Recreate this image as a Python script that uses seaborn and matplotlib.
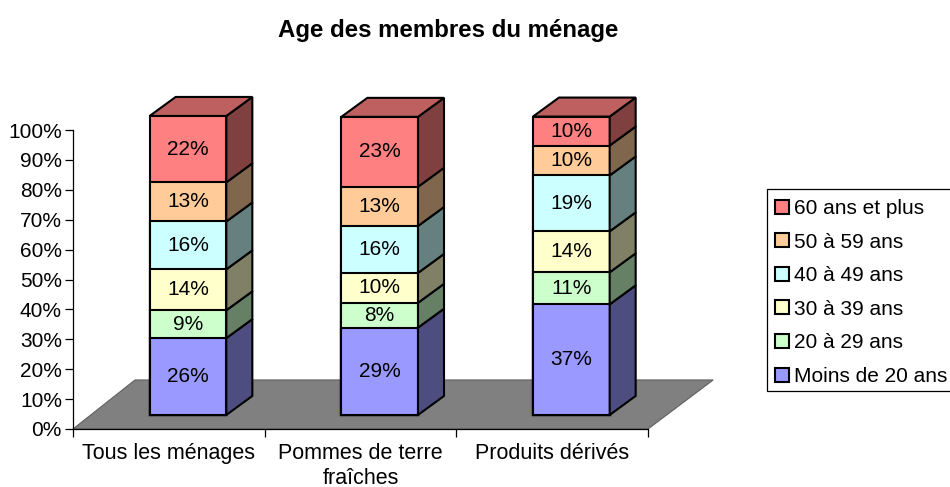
import numpy as np
import pandas as pd
import matplotlib
matplotlib.use("Agg")
import matplotlib.pyplot as plt
from matplotlib.patches import Polygon, Patch, Rectangle
import seaborn as sns

# data
categories = ["Tous les ménages", "Pommes de terre\nfraîches", "Produits dérivés"]
tranches = ["Moins de 20 ans", "20 à 29 ans", "30 à 39 ans", "40 à 49 ans", "50 à 59 ans", "60 ans et plus"]
moins_20 = [25.7, 29.2, 37.0]
a_20_29 = [9.3, 8.3, 10.7]
a_30_39 = [13.7, 10.0, 13.7]
a_40_49 = [16.0, 15.7, 18.7]
a_50_59 = [13.1, 13.1, 10.0]
plus_60 = [22.2, 23.4, 9.7]
couleurs = ["#9999FF", "#CCFFCC", "#FFFFCC", "#CCFFFF", "#FFCC99", "#FF8080"]

sns.set_style("white")
plt.rcParams["font.family"] = ["Liberation Sans", "DejaVu Sans"]
plt.rcParams["text.color"] = "black"
plt.rcParams["xtick.labelcolor"] = "black"
plt.rcParams["ytick.labelcolor"] = "black"

W, H = 950, 487
fig = plt.figure(figsize=(W / 100, H / 100), dpi=100)
# axe calé sur les pixels de l'original
ax = fig.add_axes([73 / W, 1 - 429 / H, 575 / W, 299 / H])

series = [moins_20, a_20_29, a_30_39, a_40_49, a_50_59, plus_60]
vals = np.array(series)
cumul = vals.cumsum(axis=0)
pos = np.arange(3) + 0.6
larg = 0.4
base = 4.7          # les barres sont posees sur le sol
dx, dy = 0.1357, 6.35

df = pd.DataFrame({"pos": np.tile(pos, 6), "cum": cumul.ravel(),
                   "tranche": np.repeat(tranches, 3)})

# sol gris
ax.add_patch(Polygon([(0, 0), (3, 0), (3.34, 16.4), (0.3235, 16.4)], closed=True,
                     facecolor="#808080", edgecolor="#606060", lw=0.8, zorder=0, clip_on=False))

# empilement : du plus haut au plus bas
for i in range(5, -1, -1):
    sns.barplot(data=df[df.tranche == tranches[i]], x="pos", y="cum", native_scale=True,
                bottom=base, width=larg, color=couleurs[i], saturation=1, errorbar=None,
                edgecolor="black", linewidth=1.5, ax=ax, zorder=2, clip_on=False)


def assombrir(c, f):
    return tuple(v * f for v in matplotlib.colors.to_rgb(c))


for j, x in enumerate(pos):
    x0, x1 = x - larg / 2, x + larg / 2
    bas = base
    for i in range(6):
        haut = base + cumul[i, j]
        ax.add_patch(Polygon([(x1, bas), (x1 + dx, bas + dy), (x1 + dx, haut + dy), (x1, haut)],
                             closed=True, facecolor=assombrir(couleurs[i], 0.5), edgecolor="black",
                             lw=1.5, zorder=3, clip_on=False))
        ax.text(x, (bas + haut) / 2, "%d%%" % round(vals[i, j]), ha="center", va="center",
                fontsize=15, color="black", zorder=4)
        bas = haut
    ax.add_patch(Polygon([(x0, bas), (x1, bas), (x1 + dx, bas + dy), (x0 + dx, bas + dy)],
                         closed=True, facecolor=assombrir(couleurs[5], 0.75), edgecolor="black",
                         lw=1.5, zorder=3, clip_on=False))

ax.set_xlim(0, 3)
ax.set_ylim(0, 100)
ax.set_xlabel("")
ax.set_ylabel("")
sns.despine(ax=ax)
for s in ["left", "bottom"]:
    ax.spines[s].set_linewidth(0.9)
    ax.spines[s].set_color("black")
    ax.spines[s].set_zorder(5)

ax.set_yticks(np.arange(0, 101, 10))
ax.set_yticklabels(["%d%%" % v for v in range(0, 101, 10)], fontsize=15)
ax.set_xticks([0, 1, 2, 3])
ax.set_xticklabels([])
ax.set_xticks([0.5, 1.5, 2.5], minor=True)
ax.set_xticklabels(categories, minor=True, fontsize=15.5, linespacing=1.28)
ax.tick_params(axis="both", which="major", length=6, width=0.9, color="black", left=True, bottom=True)
ax.tick_params(axis="y", pad=2)
ax.tick_params(axis="x", which="minor", length=0, pad=10)

fig.text(448 / W, 1 - 31 / H, "Age des membres du ménage", ha="center", va="center",
         fontsize=17.3, fontweight="bold")

# cadre de la legende, coupe par le bord droit comme sur l'original
fig.add_artist(Rectangle((767 / W, 1 - 391 / H), 195 / W, 202 / H, transform=fig.transFigure,
                         facecolor="white", edgecolor="black", lw=0.9))
poignees = [Patch(facecolor=couleurs[i], edgecolor="black", lw=1.5, label=tranches[i]) for i in range(5, -1, -1)]
leg = fig.legend(handles=poignees, loc="upper left", bbox_to_anchor=(775 / W, 1 - 199 / H), borderaxespad=0,
                 fontsize=15, frameon=False,
                 handlelength=0.65, handleheight=0.65, handletextpad=0.27, labelspacing=0.7,
                 borderpad=0)

fig.savefig("out.png", dpi=100)
